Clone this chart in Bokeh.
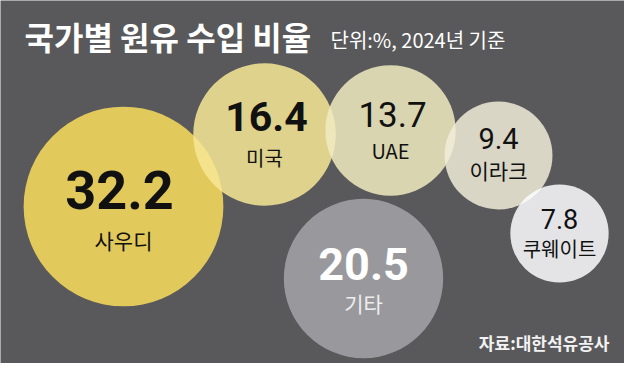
import math
from bokeh.plotting import figure
from bokeh.models import ColumnDataSource, Range1d
from bokeh.core.properties import value
from bokeh.embed import file_html
from bokeh.resources import INLINE

# ---- data ----
countries = ["사우디", "미국", "UAE", "이라크", "쿠웨이트", "기타"]
shares = [32.2, 16.4, 13.7, 9.4, 7.8, 20.5]
title_text = "국가별 원유 수입 비율"
subtitle_text = "단위:%, 2024년 기준"
source_text = "자료:대한석유공사"

# ---- layout (bubble packing positions, page pixels) ----
cx = [131, 272, 398, 506, 567, 371]
cy = [214, 142, 138, 163, 241, 286]
num_dx = [-4, 2, 2, 0, 0, 0]
num_dy = [-17, -18, -16, -17, -15, -15]
lab_dy = [33, 23, 20, 14, 15, 24]
num_size = ["54px", "41px", "35px", "29px", "27px", "45px"]
lab_size = ["21px", "20px", "20px", "21px", "20px", "21px"]
num_style = ["bold", "bold", "normal", "normal", "normal", "bold"]
fills = ["#fadd5c", "#f7e795", "#f1ebc1", "#f0ecd9", "#fdfdff", "#a4a4a9"]
txt_colors = ["#111111"] * 5 + ["#ffffff"]
lab_colors = ["#111111"] * 5 + ["#eeeeee"]
BG = "#59595b"
SCALE = 17.6  # px of radius per sqrt(percent) -> area proportional

radius = [SCALE * math.sqrt(v) for v in shares]

W, H = 624, 363
p = figure(width=W, height=H, output_backend="svg", toolbar_location=None,
           x_range=Range1d(8, 8 + W), y_range=Range1d(8 + H, 8),
           x_axis_type=None, y_axis_type=None, min_border=0)
p.grid.visible = False
p.outline_line_color = None
p.background_fill_color = BG
p.border_fill_color = BG

src = ColumnDataSource(dict(
    x=cx, y=cy, r=radius, fill=fills,
    nx=[a + b for a, b in zip(cx, num_dx)],
    ny=[a + b for a, b in zip(cy, num_dy)],
    ly=[a + b for a, b in zip(cy, lab_dy)],
    num=[f"{v:.1f}" for v in shares], lab=countries,
    nsize=num_size, lsize=lab_size, nstyle=num_style,
    tc=txt_colors, lc=lab_colors,
))

p.circle(x="x", y="y", radius="r", fill_color="fill", fill_alpha=0.85,
         line_color=None, source=src)

p.text(x="nx", y="ny", text="num", text_font=value("Roboto"),
       text_font_size="nsize", text_font_style="nstyle", text_color="tc",
       text_align="center", text_baseline="middle", source=src)
p.text(x="x", y="ly", text="lab", text_font=value("Noto Sans CJK KR"),
       text_font_size="lsize", text_color="lc",
       text_align="center", text_baseline="middle", source=src)

p.text(x=[32], y=[43], text=[title_text], text_font=value("Noto Sans CJK KR"),
       text_font_size="32px", text_font_style="bold", text_color="#ffffff",
       text_align="left", text_baseline="middle")
p.text(x=[338], y=[47], text=[subtitle_text], text_font=value("Noto Sans CJK KR"),
       text_font_size="20px", text_color="#ffffff",
       text_align="left", text_baseline="middle")
p.text(x=[617], y=[350], text=[source_text], text_font=value("Noto Sans CJK KR"),
       text_font_size="17px", text_font_style="bold", text_color="#f2f2f2",
       text_align="right", text_baseline="middle")

open("out.html", "w").write(file_html(p, INLINE))
